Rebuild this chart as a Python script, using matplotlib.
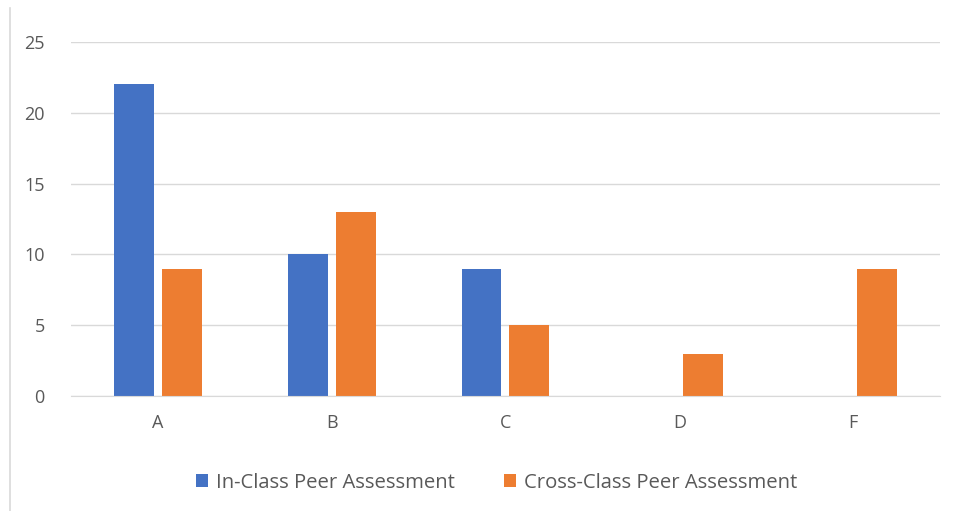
import matplotlib
matplotlib.use("Agg")
import matplotlib.pyplot as plt
from matplotlib.lines import Line2D
import numpy as np

categories = ["A", "B", "C", "D", "F"]
in_class = [22, 10, 9, 0, 0]
cross_class = [9, 13, 5, 3, 9]
labels = ["In-Class Peer Assessment", "Cross-Class Peer Assessment"]

plt.rcParams["font.family"] = ["Open Sans", "DejaVu Sans"]
text_color = "#595959"

fig = plt.figure(figsize=(9.54, 5.11), dpi=100)
ax = fig.add_axes([0.0744, 0.225, 0.9109, 0.693])

x = np.arange(len(categories))
w = 0.23
off = 0.138
ax.bar(x - off, in_class, w, color="#4472C4", label=labels[0])
ax.bar(x + off, cross_class, w, color="#ED7D31", label=labels[1])

ax.set_xlim(-0.5, len(categories) - 0.5)
ax.set_ylim(0, 25)
ax.set_yticks(range(0, 26, 5))
ax.set_xticks(x)
ax.set_xticklabels(categories)
ax.yaxis.grid(True, color="#D9D9D9", linewidth=1)
ax.set_axisbelow(True)
for s in ["top", "right", "left"]:
    ax.spines[s].set_visible(False)
ax.spines["bottom"].set_color("#D9D9D9")
ax.tick_params(axis="both", length=0, labelsize=13, colors=text_color)
ax.tick_params(axis="y", pad=19)
ax.tick_params(axis="x", pad=13)

ax.legend(loc="center", bbox_to_anchor=(0.49, -0.245), ncol=2, frameon=False,
          fontsize=14.6, labelcolor=text_color, handlelength=0.6, handleheight=0.6,
          handletextpad=0.4, columnspacing=2.4)

# chart border on the left edge
fig.add_artist(Line2D([0.0105, 0.0105], [0.0, 0.985], color="#D9D9D9", linewidth=1.2))

fig.savefig("out.png", dpi=100)
